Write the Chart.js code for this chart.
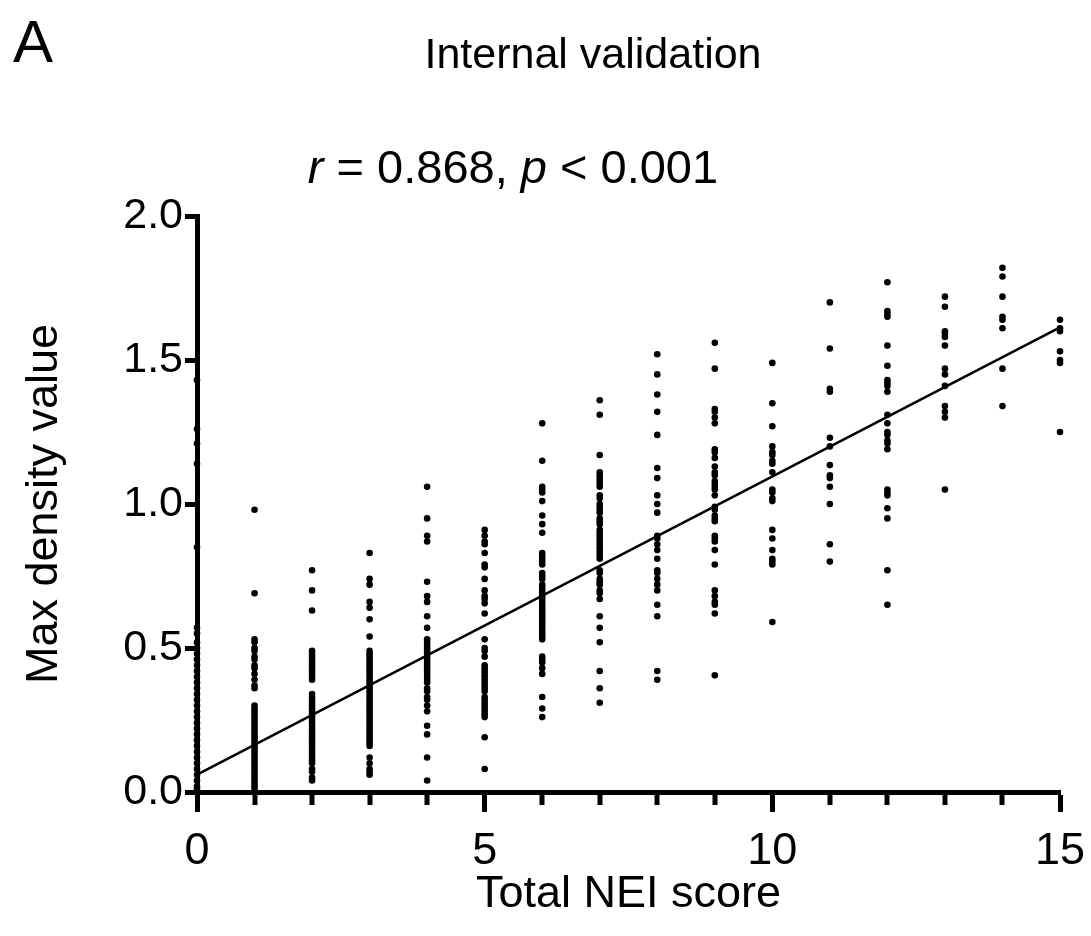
<!DOCTYPE html>
<html>
<head>
<meta charset="utf-8">
<title>Internal validation</title>
<script src="https://cdn.jsdelivr.net/npm/chart.js@4.4.1/dist/chart.umd.min.js"></script>
<style>
  html, body { margin: 0; padding: 0; background: #fff; }
  #wrap { width: 1091px; height: 936px; position: relative; }
</style>
</head>
<body>
<div id="wrap"><canvas id="neiChart" width="1091" height="936"></canvas></div>
<script>
// valores: una columna de puntos por cada puntuación NEI
const neiScores = [0, 1, 2, 3, 4, 5, 6, 7, 8, 9, 10, 11, 12, 13, 14, 15];

const densityAt0 = [1.43, 1.26, 1.21, 1.14, 0.85, 0.57, 0.55, 0.52, 0.50, 0.48, 0.46, 0.44, 0.42, 0.40, 0.38, 0.36, 0.34, 0.32, 0.30, 0.28, 0.26, 0.24, 0.22, 0.20, 0.18, 0.16, 0.14, 0.12, 0.10, 0.08, 0.06, 0.04, 0.02, 0.01];
const densityAt1 = [0.98, 0.69, 0.53, 0.52, 0.50, 0.49, 0.47, 0.46, 0.44, 0.43, 0.41, 0.39, 0.37, 0.36, 0.30, 0.29, 0.28, 0.27, 0.26, 0.25, 0.24, 0.23, 0.22, 0.21, 0.20, 0.19, 0.18, 0.17, 0.16, 0.15, 0.14, 0.13, 0.12, 0.11, 0.10, 0.09, 0.08, 0.07, 0.06, 0.05, 0.04, 0.03, 0.02, 0.01];
const densityAt2 = [0.77, 0.70, 0.63, 0.49, 0.48, 0.47, 0.46, 0.45, 0.44, 0.43, 0.42, 0.41, 0.40, 0.39, 0.34, 0.33, 0.32, 0.31, 0.30, 0.29, 0.28, 0.27, 0.26, 0.25, 0.24, 0.23, 0.22, 0.21, 0.20, 0.19, 0.18, 0.17, 0.16, 0.15, 0.14, 0.13, 0.12, 0.11, 0.10, 0.08, 0.07, 0.05, 0.04];
const densityAt3 = [0.83, 0.74, 0.72, 0.66, 0.64, 0.60, 0.54, 0.49, 0.48, 0.47, 0.46, 0.45, 0.44, 0.43, 0.42, 0.41, 0.40, 0.39, 0.38, 0.37, 0.36, 0.35, 0.34, 0.33, 0.32, 0.31, 0.30, 0.29, 0.28, 0.27, 0.26, 0.25, 0.24, 0.23, 0.22, 0.21, 0.20, 0.19, 0.18, 0.17, 0.16, 0.12, 0.10, 0.08, 0.07, 0.06];
const densityAt4 = [1.06, 0.95, 0.89, 0.87, 0.73, 0.68, 0.66, 0.61, 0.57, 0.53, 0.52, 0.51, 0.50, 0.49, 0.48, 0.47, 0.46, 0.45, 0.44, 0.43, 0.42, 0.41, 0.40, 0.39, 0.38, 0.36, 0.35, 0.33, 0.32, 0.30, 0.28, 0.23, 0.20, 0.12, 0.04];
const densityAt5 = [0.91, 0.89, 0.87, 0.86, 0.83, 0.79, 0.78, 0.74, 0.70, 0.68, 0.67, 0.655, 0.62, 0.53, 0.50, 0.49, 0.47, 0.44, 0.43, 0.42, 0.41, 0.40, 0.39, 0.38, 0.37, 0.36, 0.35, 0.33, 0.32, 0.31, 0.30, 0.29, 0.28, 0.27, 0.26, 0.19, 0.08];
const densityAt6 = [1.28, 1.15, 1.06, 1.05, 1.04, 1.01, 0.96, 0.93, 0.90, 0.83, 0.82, 0.81, 0.80, 0.79, 0.76, 0.75, 0.74, 0.72, 0.71, 0.70, 0.69, 0.68, 0.67, 0.66, 0.65, 0.64, 0.63, 0.62, 0.61, 0.60, 0.59, 0.58, 0.57, 0.56, 0.55, 0.54, 0.53, 0.47, 0.46, 0.45, 0.43, 0.41, 0.33, 0.29, 0.26];
const densityAt7 = [1.36, 1.31, 1.17, 1.11, 1.10, 1.09, 1.08, 1.07, 1.06, 1.03, 1.02, 1.00, 0.99, 0.98, 0.97, 0.95, 0.94, 0.93, 0.91, 0.90, 0.89, 0.88, 0.87, 0.86, 0.85, 0.84, 0.83, 0.82, 0.81, 0.77, 0.76, 0.74, 0.73, 0.72, 0.70, 0.69, 0.67, 0.61, 0.57, 0.52, 0.42, 0.36, 0.31];
const densityAt8 = [1.52, 1.45, 1.38, 1.32, 1.24, 1.125, 1.09, 1.03, 1.00, 0.97, 0.89, 0.88, 0.86, 0.84, 0.81, 0.77, 0.76, 0.74, 0.72, 0.70, 0.65, 0.61, 0.42, 0.39];
const densityAt9 = [1.56, 1.47, 1.33, 1.32, 1.30, 1.28, 1.19, 1.18, 1.16, 1.13, 1.11, 1.10, 1.08, 1.07, 1.06, 1.05, 1.03, 0.99, 0.98, 0.96, 0.95, 0.94, 0.89, 0.88, 0.87, 0.84, 0.79, 0.70, 0.68, 0.66, 0.65, 0.62, 0.405];
const densityAt10 = [1.49, 1.35, 1.27, 1.20, 1.18, 1.17, 1.15, 1.14, 1.11, 1.05, 1.04, 1.02, 1.01, 0.91, 0.88, 0.84, 0.81, 0.80, 0.79, 0.59];
const densityAt11 = [1.70, 1.54, 1.40, 1.39, 1.23, 1.20, 1.135, 1.10, 1.09, 1.06, 1.00, 0.86, 0.80];
const densityAt12 = [1.77, 1.67, 1.66, 1.65, 1.55, 1.48, 1.43, 1.42, 1.41, 1.39, 1.31, 1.28, 1.25, 1.24, 1.22, 1.21, 1.19, 1.05, 1.04, 1.03, 0.985, 0.95, 0.77, 0.65];
const densityAt13 = [1.72, 1.685, 1.60, 1.59, 1.58, 1.55, 1.47, 1.45, 1.41, 1.34, 1.32, 1.30, 1.05];
const densityAt14 = [1.82, 1.79, 1.72, 1.65, 1.64, 1.61, 1.47, 1.34];
const densityAt15 = [1.64, 1.61, 1.60, 1.53, 1.50, 1.49, 1.25];

const densityColumns = [densityAt0, densityAt1, densityAt2, densityAt3, densityAt4, densityAt5, densityAt6, densityAt7,
  densityAt8, densityAt9, densityAt10, densityAt11, densityAt12, densityAt13, densityAt14, densityAt15];

// recta de regresión (extremos)
const fitX = [0, 15];
const fitY = [0.06, 1.613];

const xTicksMajor = [0, 5, 10, 15];
const yTicks = [0, 0.5, 1.0, 1.5, 2.0];

const FONT = '"Liberation Sans", Arial, Helvetica, sans-serif';

// construir puntos
const scatterPoints = [];
neiScores.forEach((score, i) => {
  densityColumns[i].forEach((v) => scatterPoints.push({ x: score, y: v }));
});
const fitPoints = fitX.map((x, i) => ({ x: x, y: fitY[i] }));

// textos de cabecera (A, título, r y p con cursiva)
const headerPlugin = {
  id: "header",
  afterDraw(chart) {
    const ctx = chart.ctx;
    ctx.save();
    ctx.fillStyle = "#000";
    ctx.textBaseline = "alphabetic";

    ctx.textAlign = "left";
    ctx.font = `60px ${FONT}`;
    ctx.fillText("A", 13, 62);

    ctx.textAlign = "center";
    ctx.font = `43px ${FONT}`;
    ctx.fillText("Internal validation", 593, 68);

    // r = 0.868, p < 0.001
    const parts = [
      { t: "r", it: true },
      { t: " = 0.868, ", it: false },
      { t: "p", it: true },
      { t: " < 0.001", it: false },
    ];
    const size = 47;
    let total = 0;
    parts.forEach((p) => {
      ctx.font = `${p.it ? "italic " : ""}${size}px ${FONT}`;
      p.w = ctx.measureText(p.t).width;
      total += p.w;
    });
    let x = 513 - total / 2;
    ctx.textAlign = "left";
    parts.forEach((p) => {
      ctx.font = `${p.it ? "italic " : ""}${size}px ${FONT}`;
      ctx.fillText(p.t, x, 183);
      x += p.w;
    });
    ctx.restore();
  },
};

// marcas menores del eje X (cada unidad)
const minorTicksPlugin = {
  id: "minorTicks",
  afterDraw(chart) {
    const xs = chart.scales.x;
    const ctx = chart.ctx;
    const y0 = chart.chartArea.bottom;
    ctx.save();
    ctx.strokeStyle = "#000";
    ctx.lineWidth = 5;
    neiScores.forEach((s) => {
      if (xTicksMajor.includes(s)) return;
      const px = Math.round(xs.getPixelForValue(s));
      ctx.beginPath();
      ctx.moveTo(px, y0);
      ctx.lineTo(px, y0 + 13);
      ctx.stroke();
    });
    ctx.restore();
  },
};

const ctx = document.getElementById("neiChart").getContext("2d");
new Chart(ctx, {
  type: "scatter",
  data: {
    datasets: [
      {
        label: "Max density",
        data: scatterPoints,
        pointRadius: 3.3,
        pointHoverRadius: 3.3,
        pointBackgroundColor: "#000",
        pointBorderWidth: 0,
        clip: false,
      },
      {
        type: "line",
        label: "Ajuste lineal",
        data: fitPoints,
        borderColor: "#000",
        borderWidth: 2.5,
        pointRadius: 0,
        fill: false,
        clip: false,
      },
    ],
  },
  options: {
    responsive: false,
    animation: false,
    events: [],
    layout: { padding: { top: 216, right: 31, left: 0, bottom: 0 } },
    plugins: {
      legend: { display: false },
      tooltip: { enabled: false },
    },
    scales: {
      x: {
        type: "linear",
        min: 0,
        max: 15,
        z: 1,
        afterBuildTicks: (scale) => {
          scale.ticks = xTicksMajor.map((v) => ({ value: v }));
        },
        afterFit: (scale) => {
          scale.height = 144;
          scale.paddingRight = 0;
        },
        ticks: {
          color: "#000",
          font: { family: FONT, size: 45 },
          padding: 13,
          maxRotation: 0,
        },
        grid: {
          drawOnChartArea: false,
          drawTicks: true,
          tickLength: 20,
          tickWidth: 5,
          tickColor: "#000",
        },
        border: { display: true, color: "#000", width: 5 },
        title: {
          display: true,
          text: "Total NEI score",
          color: "#000",
          font: { family: FONT, size: 45, lineHeight: 1.2 },
          padding: { top: 0, bottom: 14 },
        },
      },
      y: {
        type: "linear",
        min: 0,
        max: 2,
        z: 1,
        afterBuildTicks: (scale) => {
          scale.ticks = yTicks.map((v) => ({ value: v }));
        },
        afterFit: (scale) => {
          scale.width = 197;
        },
        ticks: {
          color: "#000",
          font: { family: FONT, size: 43 },
          padding: 2,
          callback: (v) => Number(v).toFixed(1),
        },
        grid: {
          drawOnChartArea: false,
          drawTicks: true,
          tickLength: 12,
          tickWidth: 5,
          tickColor: "#000",
        },
        border: { display: true, color: "#000", width: 5 },
        title: {
          display: true,
          text: "Max density value",
          color: "#000",
          font: { family: FONT, size: 45, lineHeight: 1.2 },
          padding: { top: 18, bottom: 0 },
        },
      },
    },
  },
  plugins: [headerPlugin, minorTicksPlugin],
});
</script>
</body>
</html>
